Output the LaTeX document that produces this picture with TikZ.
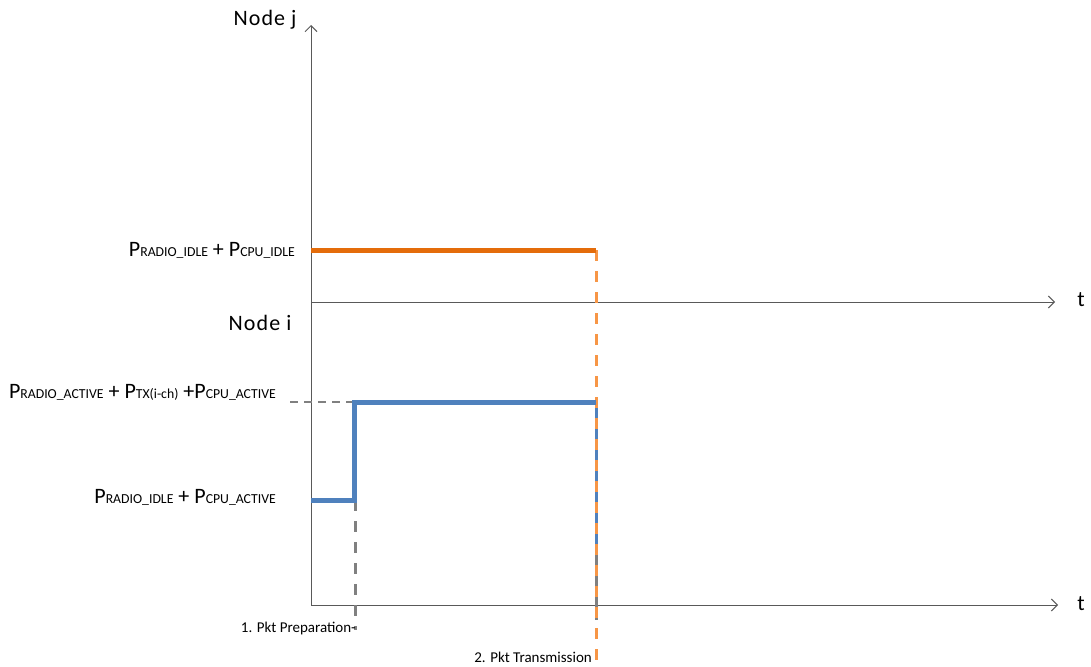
\documentclass[tikz,border=0pt]{standalone}
\usepackage{fontspec}
\setmainfont{Carlito}
\usetikzlibrary{arrows.meta}
\definecolor{axisgray}{HTML}{595959}
\definecolor{dgray}{HTML}{808080}
\definecolor{orangeD}{HTML}{E46C0A}
\definecolor{orangeL}{HTML}{F79646}
\definecolor{blueL}{HTML}{4F81BD}
\newcommand{\Pw}[1]{P{\fontsize{13.75}{13.75}\selectfont #1}}
\begin{document}
\begin{tikzpicture}[x=1pt,y=-1pt,
  axis/.style={draw=axisgray,line width=1pt,-{Straight Barb[length=6pt,width=12pt,line width=1pt]}},
  plain/.style={draw=axisgray,line width=1pt},
  pwr/.style={line width=5pt},
  lbl/.style={inner sep=0pt,font=\fontsize{22}{22}\selectfont},
  ttl/.style={inner sep=0pt,font=\fontsize{22}{22}\selectfont\addfontfeature{LetterSpace=5}},
  small/.style={inner sep=0pt,font=\fontsize{15}{15}\selectfont},
  gdash/.style={draw=dgray,line width=3pt,dash pattern=on 11pt off 10pt},
  odash/.style={draw=orangeL,line width=3pt,dash pattern=on 11pt off 10pt},
  gapdash/.style={line width=3pt,dash pattern=on 10pt off 11pt}]
\useasboundingbox (0,0) rectangle (1091,666);
% coordinates
\coordinate (jo) at (311,302);
\coordinate (jtop) at (311,25);
\coordinate (jend) at (1055,302);
\coordinate (io) at (311,605);
\coordinate (iend) at (1058,605);
\coordinate (o1) at (311,250);
\coordinate (o2) at (596,250);
\coordinate (ob) at (596,666);
\coordinate (b1) at (311,500);
\coordinate (b2) at (354,500);
\coordinate (b3) at (354,402);
\coordinate (b4) at (596,402);
\coordinate (b4s) at (596,408);
\coordinate (b5) at (596,545);
\coordinate (g5) at (596,555);
\coordinate (g1) at (290,402);
\coordinate (g2) at (355,500);
\coordinate (g3) at (355,630);
\coordinate (g4) at (596,620);
% axes
\draw[axis] (jo) -- (jtop);
\draw[axis] (jo) -- (jend);
\draw[plain] (jo) -- (io);
\draw[axis] (io) -- (iend);
% grey dashed helpers
\draw[draw=dgray,line width=2pt,dash pattern=on 8pt off 6pt] (g1) -- (b3);
\draw[gdash] (g2) -- (g3);
\draw[gapdash,draw=dgray] (g5) -- (g4);
% blue dashed at transmission
\draw[gapdash,draw=blueL] (b4s) -- (b5);
% orange dashed
\draw[odash] (o2) -- (ob);
% power levels
\draw[pwr,draw=orangeD] (o1) -- (o2);
\draw[pwr,draw=blueL,line join=miter] (b1) -- (b2) -- (b3) -- (b4);
% labels
\node[ttl] (nj) at (265,20) {Node j};
\node[ttl] (ni) at (260,323) {Node i};
\node[lbl,anchor=east] (l1) at (295,250) {\Pw{RADIO\_IDLE} + \Pw{CPU\_IDLE}};
\node[lbl,anchor=east] (l2) at (276,392) {\Pw{RADIO\_ACTIVE} + \Pw{TX(i-ch)} +\Pw{CPU\_ACTIVE}};
\node[lbl,anchor=east] (l3) at (276,497) {\Pw{RADIO\_IDLE} + \Pw{CPU\_ACTIVE}};
\node[small,anchor=east] (s1) at (356,628) {1. Pkt Preparation-};
\node[small,anchor=east] (s2) at (592,657) {2. Pkt Transmission};
\node[lbl] (t1) at (1081,300) {t};
\node[lbl] (t2) at (1081,604) {t};
\end{tikzpicture}
\end{document}
